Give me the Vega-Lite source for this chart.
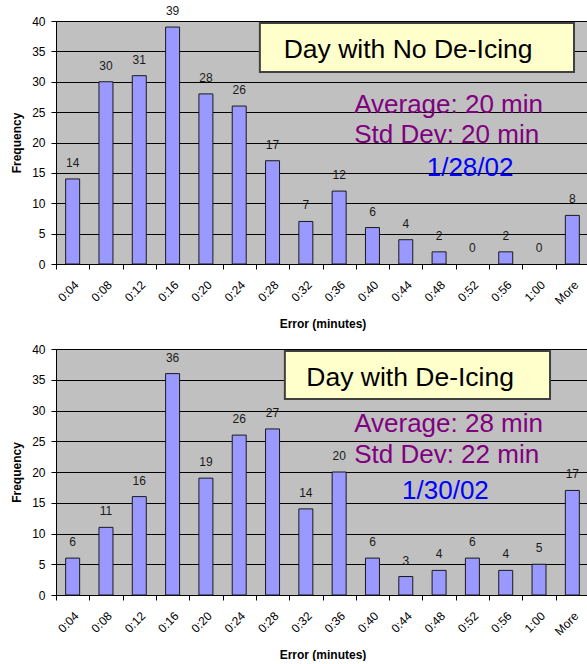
{
  "$schema": "https://vega.github.io/schema/vega-lite/v6.json",
  "padding": {"left": 10, "top": 4, "right": 0, "bottom": 0},
  "spacing": 12,
  "config": {
    "font": "Liberation Sans",
    "view": {"fill": "#C0C0C0", "stroke": "#808080", "strokeWidth": 1},
    "axis": {
      "domainColor": "#000000",
      "tickColor": "#000000",
      "tickSize": 5,
      "labelColor": "#000000",
      "labelFontSize": 12,
      "titleColor": "#000000",
      "titleFontSize": 12,
      "titleFontWeight": "bold"
    }
  },
  "datasets": {
    "noDeicing": [
      {"bin": "0:04", "freq": 14}, {"bin": "0:08", "freq": 30}, {"bin": "0:12", "freq": 31},
      {"bin": "0:16", "freq": 39}, {"bin": "0:20", "freq": 28}, {"bin": "0:24", "freq": 26},
      {"bin": "0:28", "freq": 17}, {"bin": "0:32", "freq": 7}, {"bin": "0:36", "freq": 12},
      {"bin": "0:40", "freq": 6}, {"bin": "0:44", "freq": 4}, {"bin": "0:48", "freq": 2},
      {"bin": "0:52", "freq": 0}, {"bin": "0:56", "freq": 2}, {"bin": "1:00", "freq": 0},
      {"bin": "More", "freq": 8}
    ],
    "deicing": [
      {"bin": "0:04", "freq": 6}, {"bin": "0:08", "freq": 11}, {"bin": "0:12", "freq": 16},
      {"bin": "0:16", "freq": 36}, {"bin": "0:20", "freq": 19}, {"bin": "0:24", "freq": 26},
      {"bin": "0:28", "freq": 27}, {"bin": "0:32", "freq": 14}, {"bin": "0:36", "freq": 20},
      {"bin": "0:40", "freq": 6}, {"bin": "0:44", "freq": 3}, {"bin": "0:48", "freq": 4},
      {"bin": "0:52", "freq": 6}, {"bin": "0:56", "freq": 4}, {"bin": "1:00", "freq": 5},
      {"bin": "More", "freq": 17}
    ]
  },
  "vconcat": [
    {
      "width": 533,
      "height": 243,
      "resolve": {"scale": {"x": "independent", "y": "independent"}},
      "layer": [
        {
          "data": {"name": "noDeicing"},
          "encoding": {
            "x": {"field": "bin", "type": "ordinal", "sort": null, "scale": {"paddingInner": 0, "paddingOuter": 0},
                  "axis": {"title": "Error (minutes)", "labelAngle": -45, "tickBand": "extent", "labelPadding": 10, "titlePadding": 12}},
            "y": {"field": "freq", "type": "quantitative", "scale": {"domain": [0, 40], "nice": false},
                  "axis": {"title": "Frequency", "values": [0, 5, 10, 15, 20, 25, 30, 35, 40], "grid": true, "gridColor": "#000000", "gridOpacity": 1, "labelPadding": 6, "titlePadding": 8}}
          },
          "layer": [
            {
              "mark": {"type": "bar", "fill": "#9999FF", "stroke": "#1a1a1a", "strokeWidth": 1, "width": {"band": 0.42}},
              "encoding": {"strokeOpacity": {"condition": {"test": "datum.freq === 0", "value": 0}, "value": 1}}
            },
            {
              "mark": {"type": "text", "dy": -16, "fontSize": 12, "color": "#1a1a1a", "baseline": "middle"},
              "encoding": {"text": {"field": "freq"}}
            }
          ]
        },
        {
          "data": {"values": [{}]},
          "layer": [
            {
              "mark": {"type": "rect", "fill": "#FFFFCC", "stroke": "#404040", "strokeWidth": 2},
              "encoding": {
                "x": {"datum": 6.12, "type": "quantitative", "scale": {"domain": [0, 16], "nice": false, "zero": false}, "axis": null},
                "x2": {"datum": 15.55},
                "y": {"datum": 39.67, "type": "quantitative", "scale": {"domain": [0, 40], "nice": false}, "axis": null},
                "y2": {"datum": 31.6}
              }
            },
            {
              "mark": {"type": "text", "fontSize": 26.5, "color": "#000000", "align": "center", "baseline": "middle"},
              "encoding": {
                "x": {"datum": 10.57, "type": "quantitative", "axis": null},
                "y": {"datum": 35.2, "type": "quantitative", "axis": null},
                "text": {"datum": "Day with No De-Icing"}
              }
            },
            {
              "mark": {"type": "text", "fontSize": 26, "color": "#800080", "align": "left", "baseline": "middle"},
              "encoding": {
                "x": {"datum": 8.95, "type": "quantitative", "axis": null},
                "y": {"datum": 26.2, "type": "quantitative", "axis": null},
                "text": {"datum": "Average: 20 min"}
              }
            },
            {
              "mark": {"type": "text", "fontSize": 26, "color": "#800080", "align": "left", "baseline": "middle"},
              "encoding": {
                "x": {"datum": 8.95, "type": "quantitative", "axis": null},
                "y": {"datum": 21.2, "type": "quantitative", "axis": null},
                "text": {"datum": "Std Dev: 20 min"}
              }
            },
            {
              "mark": {"type": "text", "fontSize": 26, "color": "#0000FF", "align": "center", "baseline": "middle"},
              "encoding": {
                "x": {"datum": 12.43, "type": "quantitative", "axis": null},
                "y": {"datum": 15.8, "type": "quantitative", "axis": null},
                "text": {"datum": "1/28/02"}
              }
            }
          ]
        }
      ]
    },
    {
      "width": 533,
      "height": 246,
      "resolve": {"scale": {"x": "independent", "y": "independent"}},
      "layer": [
        {
          "data": {"name": "deicing"},
          "encoding": {
            "x": {"field": "bin", "type": "ordinal", "sort": null, "scale": {"paddingInner": 0, "paddingOuter": 0},
                  "axis": {"title": "Error (minutes)", "labelAngle": -45, "tickBand": "extent", "labelPadding": 10, "titlePadding": 12}},
            "y": {"field": "freq", "type": "quantitative", "scale": {"domain": [0, 40], "nice": false},
                  "axis": {"title": "Frequency", "values": [0, 5, 10, 15, 20, 25, 30, 35, 40], "grid": true, "gridColor": "#000000", "gridOpacity": 1, "labelPadding": 6, "titlePadding": 8}}
          },
          "layer": [
            {
              "mark": {"type": "bar", "fill": "#9999FF", "stroke": "#1a1a1a", "strokeWidth": 1, "width": {"band": 0.42}},
              "encoding": {"strokeOpacity": {"condition": {"test": "datum.freq === 0", "value": 0}, "value": 1}}
            },
            {
              "mark": {"type": "text", "dy": -16, "fontSize": 12, "color": "#1a1a1a", "baseline": "middle"},
              "encoding": {"text": {"field": "freq"}}
            }
          ]
        },
        {
          "data": {"values": [{}]},
          "layer": [
            {
              "mark": {"type": "rect", "fill": "#FFFFCC", "stroke": "#404040", "strokeWidth": 2},
              "encoding": {
                "x": {"datum": 6.87, "type": "quantitative", "scale": {"domain": [0, 16], "nice": false, "zero": false}, "axis": null},
                "x2": {"datum": 14.83},
                "y": {"datum": 39.67, "type": "quantitative", "scale": {"domain": [0, 40], "nice": false}, "axis": null},
                "y2": {"datum": 31.87}
              }
            },
            {
              "mark": {"type": "text", "fontSize": 26.5, "color": "#000000", "align": "center", "baseline": "middle"},
              "encoding": {
                "x": {"datum": 10.63, "type": "quantitative", "axis": null},
                "y": {"datum": 35.28, "type": "quantitative", "axis": null},
                "text": {"datum": "Day with De-Icing"}
              }
            },
            {
              "mark": {"type": "text", "fontSize": 26, "color": "#800080", "align": "left", "baseline": "middle"},
              "encoding": {
                "x": {"datum": 8.95, "type": "quantitative", "axis": null},
                "y": {"datum": 27.8, "type": "quantitative", "axis": null},
                "text": {"datum": "Average: 28 min"}
              }
            },
            {
              "mark": {"type": "text", "fontSize": 26, "color": "#800080", "align": "left", "baseline": "middle"},
              "encoding": {
                "x": {"datum": 8.95, "type": "quantitative", "axis": null},
                "y": {"datum": 22.76, "type": "quantitative", "axis": null},
                "text": {"datum": "Std Dev: 22 min"}
              }
            },
            {
              "mark": {"type": "text", "fontSize": 26, "color": "#0000FF", "align": "center", "baseline": "middle"},
              "encoding": {
                "x": {"datum": 11.69, "type": "quantitative", "axis": null},
                "y": {"datum": 16.9, "type": "quantitative", "axis": null},
                "text": {"datum": "1/30/02"}
              }
            }
          ]
        }
      ]
    }
  ]
}
